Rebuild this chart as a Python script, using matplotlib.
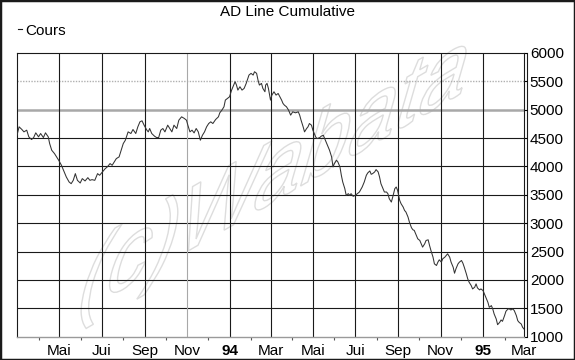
import matplotlib
matplotlib.use("Agg")
import matplotlib.pyplot as plt
import numpy as np
import pandas as pd
from matplotlib.lines import Line2D
from matplotlib.patches import PathPatch, Rectangle
from matplotlib.textpath import TextPath
from matplotlib.font_manager import FontProperties
from matplotlib.transforms import Affine2D, IdentityTransform

plt.rcParams['font.family'] = ['Liberation Sans', 'DejaVu Sans']

# AD line: calendar days after 1 March 1993 and level
start = pd.Timestamp("1993-03-01")
days = [0, 3, 7, 10, 14, 17, 21, 24, 27, 31, 34, 38, 41, 45, 47, 50, 54, 57, 60, 64,
        68, 71, 75, 78, 81, 84, 87, 91, 94, 98, 102, 105, 108, 112, 116, 119, 123, 127, 130, 134,
        137, 140, 143, 147, 150, 153, 156, 160, 164, 167, 171, 174, 177, 180, 183, 187, 189, 191, 194, 198,
        201, 204, 207, 210, 213, 217, 220, 223, 226, 230, 233, 237, 241,
        244, 246, 249, 252, 255, 258, 261, 264, 267, 270, 273, 276, 279, 282, 286, 290, 292, 295, 298, 300,
        303, 306, 309, 311, 314, 316, 318, 321, 324, 327, 330, 334, 337, 340, 342, 345, 347, 349, 352, 354,
        357, 358, 360, 362, 365, 367, 370, 373, 376, 378, 381, 383, 385, 388, 391, 394, 397, 401, 405, 407,
        409, 412, 414, 417, 419, 421, 424, 426, 430, 432, 436, 438, 441, 443, 447, 450, 453, 455, 457, 460,
        462, 465, 467, 469, 472, 474, 477, 479, 481, 484, 487, 490, 493, 497, 500,
        503, 505, 508, 510, 512, 515, 517, 520, 522, 524, 527, 529, 532, 534, 536, 539, 541, 544, 546, 548,
        551, 553, 556, 558, 560, 563, 565, 568, 570, 572, 575, 577, 580, 582, 584, 587, 589, 592, 594, 596,
        599, 601, 604, 606, 608, 611, 613, 616, 618, 620, 623, 625, 628, 630, 632, 635, 637, 640, 642, 644,
        647, 649, 651, 654, 656, 659, 661, 663, 666, 668, 671, 673, 675, 678, 680, 683, 685, 687, 690, 692,
        695, 697, 699, 702, 704, 707, 709, 711, 714, 716, 719, 721, 723, 726, 728, 730]
values = [4551, 4699, 4652, 4610, 4640, 4522, 4475, 4510, 4593, 4522, 4581, 4510, 4593, 4522, 4404, 4286, 4227, 4169, 4110, 4021,
          3904, 3815, 3727, 3697, 3756, 3874, 3756, 3709, 3786, 3745, 3803, 3756, 3768, 3756, 3874, 3845, 3904, 3962, 3992, 4051,
          4021, 4080, 4139, 4169, 4286, 4404, 4463, 4610, 4581, 4652, 4581, 4699, 4787, 4805, 4728, 4640, 4610, 4669, 4581, 4534,
          4510, 4510, 4640, 4669, 4610, 4728, 4669, 4610, 4728, 4669, 4816, 4875, 4846,
          4816, 4728, 4610, 4640, 4592, 4669, 4610, 4463, 4551, 4610, 4699, 4757, 4787, 4757, 4828, 4875, 4946, 4993, 5052, 5170,
          5199, 5228, 5346, 5405, 5494, 5435, 5346, 5405, 5346, 5376, 5464, 5611, 5641, 5611, 5670, 5641, 5523, 5435, 5464, 5376,
          5317, 5435, 5464, 5376, 5170, 5258, 5317, 5258, 5287, 5240, 5170, 5111, 5081, 5052, 4993, 4905, 4963, 4946, 4963, 4905,
          4816, 4699, 4610, 4669, 4699, 4757, 4728, 4640, 4522, 4492, 4510, 4534, 4551, 4492, 4375, 4286, 4168, 3992, 4051, 4110,
          4080, 3992, 3845, 3727, 3609, 3491, 3521, 3491, 3521, 3474, 3491, 3521, 3550, 3638, 3727,
          3845, 3886, 3921, 3862, 3874, 3904, 3945, 3904, 3815, 3697, 3609, 3550, 3550, 3521, 3432, 3373, 3462, 3609, 3638, 3580,
          3403, 3344, 3285, 3226, 3197, 3109, 3020, 2920, 2885, 2873, 2785, 2726, 2696, 2637, 2579, 2637, 2696, 2708, 2608, 2520,
          2402, 2284, 2255, 2314, 2355, 2314, 2373, 2402, 2432, 2461, 2402, 2314, 2225, 2119, 2196, 2284, 2314, 2343, 2296, 2225,
          2107, 2019, 1960, 1901, 1842, 1872, 1931, 1860, 1825, 1842, 1813, 1754, 1695, 1607, 1518, 1548, 1489, 1401, 1312, 1212,
          1253, 1295, 1271, 1371, 1448, 1489, 1489, 1471, 1489, 1460, 1371, 1283, 1253, 1224, 1165, 1136]

tick_dates = ["1993-05-01", "1993-07-01", "1993-09-01", "1993-11-01", "1994-01-01", "1994-03-01",
              "1994-05-01", "1994-07-01", "1994-09-01", "1994-11-01", "1995-01-01", "1995-03-01"]
tick_labels = ["Mai", "Jui", "Sep", "Nov", "94", "Mar", "Mai", "Jui", "Sep", "Nov", "95", "Mar"]
minor_dates = ["1993-04-01", "1993-06-01", "1993-08-01", "1993-10-01", "1993-12-01", "1994-02-01",
               "1994-04-01", "1994-06-01", "1994-08-01", "1994-10-01", "1994-12-01", "1995-02-01"]
y_ticks = [1000, 1500, 2000, 2500, 3000, 3500, 4000, 4500, 5000, 5500, 6000]

dates = start + pd.to_timedelta(days, unit="D")

fig = plt.figure(figsize=(5.75, 3.6), dpi=100)
ax = fig.add_axes([17 / 575, 1 - 336.7 / 360, (524 - 17) / 575, (336.7 - 53) / 360])
ax.set_facecolor("none")
ax.set_zorder(2)

ax.set_xlim(start, pd.Timestamp("1995-03-01"))
ax.set_ylim(1000, 6000)

# grid: black lines, with the grey 5000 / 5500 bands and grey Nov 93 line
for y in y_ticks:
    if y == 5000:
        ax.axhline(y, color="#a8a8a8", lw=1.8, zorder=1)
    elif y == 5500:
        ax.axhline(y, color="#b0b0b0", lw=1.0, ls=(0, (1, 1)), zorder=1)
    elif y not in (1000, 6000):
        ax.axhline(y, color="#1a1a1a", lw=0.8, zorder=1)
for d in tick_dates[:-1]:
    c = "#a8a8a8" if d == "1993-11-01" else "#1a1a1a"
    ax.axvline(pd.Timestamp(d), color=c, lw=0.8, zorder=1)

ax.plot(dates, values, color="#333333", lw=0.75, zorder=3)

ax.set_xticks(pd.to_datetime(tick_dates))
ax.set_xticklabels(tick_labels)
for lab in ax.get_xticklabels():
    if lab.get_text() in ("94", "95"):
        lab.set_fontweight("bold")
ax.set_xticks(pd.to_datetime(minor_dates), minor=True)
ax.tick_params(axis="x", which="major", length=0, pad=5, labelsize=11)
ax.tick_params(axis="x", which="minor", length=2, width=0.8, color="#555555")

ax.yaxis.tick_right()
ax.set_yticks(y_ticks)
ax.set_yticklabels([str(v) for v in y_ticks])
ax.tick_params(axis="y", which="major", length=2.2, width=0.8, pad=2, labelsize=11)

for s in ("left", "top", "right"):
    ax.spines[s].set_color("#1a1a1a")
    ax.spines[s].set_linewidth(0.8)
ax.spines["bottom"].set_color("#9a9a9a")
ax.spines["bottom"].set_linestyle((0, (1, 1)))
ax.spines["bottom"].set_linewidth(1.0)

# second vertical line right of the plot
fig.add_artist(Line2D([527 / 575, 527 / 575], [1 - 336.7 / 360, 1 - 53 / 360],
                      color="#1a1a1a", lw=0.8))

# watermark, slanted outline text behind the chart
tp = TextPath((0, 0), "(c)Wabata", size=1, prop=FontProperties(family="Liberation Sans"))
a_b, a_v = np.radians(30), np.radians(74)
sx, sy = 98, 112
M = np.array([[sx * np.cos(a_b), sy * np.cos(a_v), 72],
              [sx * np.sin(a_b), sy * np.sin(a_v), 360 - 318],
              [0, 0, 1]])
fig.add_artist(PathPatch(tp, transform=Affine2D(M) + IdentityTransform(),
                         facecolor="none", edgecolor="#dddddd", lw=1.0, zorder=1))

fig.text(0.5, 1 - 12 / 360, "AD Line Cumulative", ha="center", va="center", fontsize=11)
fig.add_artist(Line2D([18 / 575, 22 / 575], [1 - 29 / 360, 1 - 29 / 360], color="#1a1a1a", lw=0.8))
fig.text(25 / 575, 1 - 31 / 360, "Cours", ha="left", va="center", fontsize=11)

fig.add_artist(Rectangle((0, 0), 1, 1, transform=fig.transFigure, fill=False,
                         edgecolor="#1a1a1a", lw=2.5, zorder=5))

fig.savefig("out.png", dpi=100)
